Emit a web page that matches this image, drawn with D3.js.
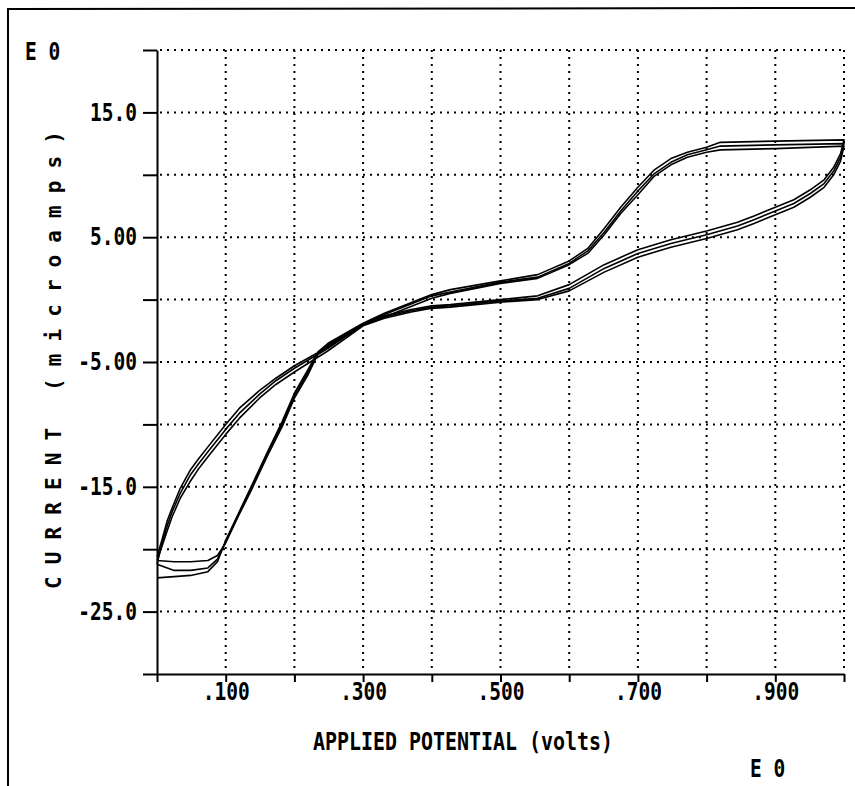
<!DOCTYPE html>
<html>
<head>
<meta charset="utf-8">
<script src="https://cdn.jsdelivr.net/npm/d3@7"></script>
<style>
  body { margin: 0; background: #fff; }
  text { font-family: "DejaVu Sans Mono", "Liberation Mono", monospace; fill: #000; }
</style>
</head>
<body>
<div id="chart"></div>
<script>
// Cyclic voltammogram, three overlaid cycles.

// forward sweep (0 -> 1 V), shared potentials for all cycles
const fwdPotential = [0.000, 0.007, 0.015, 0.022, 0.034, 0.048, 0.060, 0.077, 0.100, 0.120, 0.149,
    0.173, 0.200, 0.249, 0.300, 0.331, 0.400, 0.427, 0.500, 0.554, 0.600, 0.627, 0.651, 0.675,
    0.700, 0.724, 0.748, 0.772, 0.800, 0.820, 0.900, 1.000];
const fwdCurrent1 = [-20.6, -19.3, -17.7, -16.7, -15.1, -13.7, -12.8, -11.6, -10.0, -8.7, -7.3,
    -6.3, -5.3, -3.8, -1.9, -1.1, 0.4, 0.8, 1.5, 2.0, 3.1, 4.1, 5.7, 7.4,
    9.0, 10.4, 11.3, 11.8, 12.2, 12.6, 12.7, 12.8];
const fwdCurrent2 = [-20.9, -19.8, -18.5, -17.4, -15.9, -14.6, -13.6, -12.4, -10.8, -9.5, -7.9,
    -6.8, -5.8, -4.1, -2.1, -1.4, 0.1, 0.5, 1.3, 1.7, 2.8, 3.7, 5.2, 6.9,
    8.4, 9.9, 10.8, 11.4, 11.8, 12.0, 12.1, 12.3];
const fwdCurrent3 = [-21.2, -19.6, -18.1, -17.0, -15.5, -14.1, -13.2, -12.0, -10.4, -9.1, -7.6,
    -6.5, -5.5, -3.9, -2.0, -1.2, 0.3, 0.6, 1.4, 1.8, 2.9, 3.9, 5.4, 7.1,
    8.7, 10.1, 11.0, 11.6, 12.0, 12.3, 12.4, 12.5];

// reverse sweep (1 -> 0 V)
const revPotential = [1.000, 0.995, 0.985, 0.971, 0.951, 0.927, 0.900, 0.869, 0.845, 0.800, 0.748,
    0.700, 0.651, 0.600, 0.554, 0.500, 0.427, 0.400, 0.370, 0.331, 0.300, 0.249, 0.234, 0.220,
    0.200, 0.182, 0.160, 0.137, 0.118, 0.100, 0.088, 0.074, 0.049, 0.025, 0.000];
const revCurrent1 = [12.8, 11.7, 10.6, 9.6, 8.8, 8.0, 7.4, 6.7, 6.2, 5.5, 4.8,
    4.0, 2.8, 1.2, 0.3, 0.0, -0.4, -0.5, -0.8, -1.3, -1.9, -3.5, -4.2, -5.6,
    -7.5, -9.8, -12.3, -15.0, -17.2, -19.3, -21.0, -21.8, -22.1, -22.2, -22.3];
const revCurrent2 = [12.3, 11.1, 10.0, 9.0, 8.2, 7.4, 6.8, 6.1, 5.6, 4.9, 4.2,
    3.4, 2.2, 0.7, 0.0, -0.2, -0.6, -0.7, -1.0, -1.5, -2.1, -3.7, -4.4, -6.0,
    -7.9, -10.2, -12.6, -15.3, -17.4, -19.5, -20.5, -20.9, -21.0, -21.0, -20.9];
const revCurrent3 = [12.5, 11.4, 10.3, 9.3, 8.5, 7.7, 7.1, 6.4, 5.9, 5.2, 4.5,
    3.7, 2.5, 0.9, 0.1, -0.1, -0.5, -0.6, -0.9, -1.4, -2.0, -3.6, -4.3, -5.8,
    -7.7, -10.0, -12.4, -15.1, -17.3, -19.4, -20.8, -21.5, -21.7, -21.7, -21.2];

// axes
const potentialTicks = [0, 0.1, 0.2, 0.3, 0.4, 0.5, 0.6, 0.7, 0.8, 0.9, 1.0];
const potentialLabels = {0.1: ".100", 0.3: ".300", 0.5: ".500", 0.7: ".700", 0.9: ".900"};
const currentTicks = [-30, -25, -20, -15, -10, -5, 0, 5, 10, 15, 20];
const currentLabels = {15: "15.0", 5: "5.00", "-5": "-5.00", "-15": "-15.0", "-25": "-25.0"};

const width = 855, height = 786;
const stretch = 1.25; // printer font is taller than it is wide

const svg = d3.select("#chart")
    .append("svg")
    .attr("width", width)
    .attr("height", height)
    .style("background-color", "#fff");

// scanned page frame (top and left edges only)
svg.append("path")
    .attr("d", "M8,786 L8,9 L855,8")
    .attr("fill", "none")
    .attr("stroke", "#000")
    .attr("stroke-width", 2);

const x = d3.scaleLinear().domain([0, 1]).range([157, 844]);
const y = d3.scaleLinear().domain([-30, 20]).range([674, 50]);

// dotted grid
const grid = svg.append("g")
    .attr("stroke", "#000")
    .attr("stroke-width", 2)
    .attr("stroke-dasharray", "2,5");

grid.selectAll("line.h")
    .data(currentTicks.filter(d => d > -30))
    .join("line")
    .attr("class", "h")
    .attr("x1", x(0) + 3).attr("x2", x(1))
    .attr("y1", d => y(d)).attr("y2", d => y(d));

grid.selectAll("line.v")
    .data(potentialTicks.filter(d => d > 0))
    .join("line")
    .attr("class", "v")
    .attr("x1", d => x(d)).attr("x2", d => x(d))
    .attr("y1", y(20)).attr("y2", y(-30) - 3);

// y axis
const yAxis = svg.append("g")
    .attr("transform", `translate(${x(0)},0)`)
    .call(d3.axisLeft(y)
        .tickValues(currentTicks)
        .tickSize(14)
        .tickSizeOuter(0)
        .tickPadding(6)
        .tickFormat(d => currentLabels[d] || ""));

// x axis
const xAxis = svg.append("g")
    .attr("transform", `translate(0,${y(-30)})`)
    .call(d3.axisBottom(x)
        .tickValues(potentialTicks)
        .tickSize(8)
        .tickSizeOuter(0)
        .tickFormat(d => potentialLabels[d] || ""));

[yAxis, xAxis].forEach(a => {
    a.select(".domain").attr("stroke", "#000").attr("stroke-width", 2);
    a.selectAll(".tick line").attr("stroke", "#000").attr("stroke-width", 2);
    a.selectAll(".tick text")
        .attr("font-family", "DejaVu Sans Mono")
        .attr("font-size", 19.5)
        .attr("font-weight", "bold")
        .attr("fill", "#000")
        .attr("transform", `scale(1,${stretch})`);
});
yAxis.selectAll(".tick text").attr("dy", 0).attr("y", 7.1 / stretch + 0.5);
xAxis.selectAll(".tick text").attr("dy", 0).attr("y", 26 / stretch);

// axis titles and exponent markers
function label(px, py, str, anchor, size, len) {
    const t = svg.append("text")
        .attr("transform", `translate(${px},${py}) scale(1,${stretch})`)
        .attr("text-anchor", anchor)
        .attr("font-size", size)
        .attr("font-weight", "bold")
        .text(str);
    if (len) t.attr("textLength", len).attr("lengthAdjust", "spacingAndGlyphs");
    return t;
}
label(463, 750, "APPLIED POTENTIAL (volts)", "middle", 19.5, 300);
label(25, 60, "E 0", "start", 19.5);
label(750, 777, "E 0", "start", 19.5);

// rotated title; the printer letters are large and widely spaced
svg.append("text")
    .attr("transform", "translate(61,360) rotate(-90)")
    .attr("text-anchor", "middle")
    .attr("font-size", 21)
    .attr("font-weight", "bold")
    .attr("textLength", 458)
    .attr("lengthAdjust", "spacing")
    .text("CURRENT (microamps)");

// the three voltammetric cycles
const cycles = [
    [fwdCurrent1, revCurrent1],
    [fwdCurrent2, revCurrent2],
    [fwdCurrent3, revCurrent3]
].map(([f, r]) => fwdPotential.map((p, i) => [p, f[i]])
    .concat(revPotential.map((p, i) => [p, r[i]])));

const line = d3.line()
    .x(d => x(d[0]))
    .y(d => y(d[1]));

svg.append("g")
    .selectAll("path")
    .data(cycles)
    .join("path")
    .attr("d", line)
    .attr("fill", "none")
    .attr("stroke", "#000")
    .attr("stroke-width", 1.6)
    .attr("stroke-linejoin", "round");
</script>
</body>
</html>
